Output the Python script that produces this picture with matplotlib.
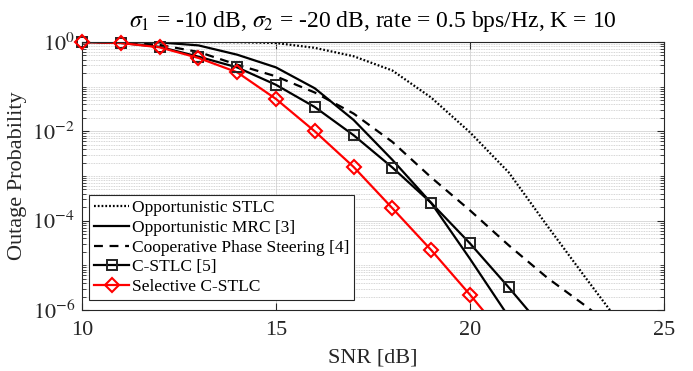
import matplotlib
matplotlib.use("Agg")
import matplotlib.pyplot as plt
from matplotlib.lines import Line2D
from matplotlib.ticker import FixedLocator, LogLocator, NullFormatter

# Outage probability vs SNR.
snr_stlc = [10, 11, 12, 13, 14, 15, 16, 17, 18, 19, 20, 21, 22, 23, 24]
p_stlc = [1.0, 1.0, 1.0, 1.0, 0.99, 0.95, 0.74, 0.48, 0.23, 0.057,
          9.5e-3, 1.2e-3, 7.5e-5, 5e-6, 3.5e-7]

snr_mrc = [10, 11, 12, 13, 14, 15, 16, 17, 18, 19, 20, 21]
p_mrc = [1.0, 1.0, 0.98, 0.84, 0.52, 0.27, 0.092, 0.018, 2.3e-3, 2.5e-4,
         1.4e-5, 7e-7]

snr_cps = [10, 11, 12, 13, 14, 15, 16, 17, 18, 19, 20, 21, 22, 23, 24]
p_cps = [1.0, 0.98, 0.86, 0.6, 0.31, 0.17, 0.074, 0.025, 5.8e-3, 9.3e-4,
         1.7e-4, 2.8e-5, 5.2e-6, 1.2e-6, 2.5e-7]

snr_cstlc = [10, 11, 12, 13, 14, 15, 16, 17, 18, 19, 20, 21, 22]
p_cstlc = [1.0, 0.95, 0.78, 0.47, 0.27, 0.11, 0.035, 8.2e-3, 1.55e-3,
           2.5e-4, 3.1e-5, 3.2e-6, 3e-7]

snr_sel = [10, 11, 12, 13, 14, 15, 16, 17, 18, 19, 20, 21]
p_sel = [1.0, 0.95, 0.76, 0.44, 0.21, 0.053, 0.01, 1.6e-3, 1.9e-4, 2.2e-5,
         2.2e-6, 2e-7]

labels = ["Opportunistic STLC", "Opportunistic MRC [3]",
          "Cooperative Phase Steering [4]", "C-STLC [5]", "Selective C-STLC"]
x_ticks = [10, 15, 20, 25]
y_ticks = [1e0, 1e-2, 1e-4, 1e-6]
y_tick_labels = [r"$10^{0}$", r"$10^{-2}$", r"$10^{-4}$", r"$10^{-6}$"]
title = (r"$\sigma_1$ = -10 dB, $\sigma_2$ = -20 dB, "
         r"rate = 0.5 bps/Hz, K = 10")

plt.rcParams["font.family"] = ["Liberation Serif", "DejaVu Serif"]
plt.rcParams["mathtext.fontset"] = "stix"

fig = plt.figure(figsize=(6.93, 3.71), dpi=100)
ax = fig.add_axes([0.1183, 0.1644, 0.8398, 0.7224])

YMIN, YMAX = 1e-6, 1e0
lw = 1.6
ink = "#262626"


def _markers(x, y, **kw):
    # draw markers only for visible points, unclipped like MATLAB
    pts = [(a, b) for a, b in zip(x, y) if YMIN * 0.999 <= b <= YMAX * 1.001]
    xs, ys = zip(*pts)
    ax.plot(xs, ys, linestyle="none", clip_on=False, zorder=4, **kw)


dotted = (0, (0.8, 0.9))
dashed = (0, (4, 3))
ax.semilogy(snr_stlc, p_stlc, color="black", linestyle=dotted, lw=lw)
ax.semilogy(snr_mrc, p_mrc, color="black", linestyle="-", lw=lw)
ax.semilogy(snr_cps, p_cps, color="black", linestyle=dashed, lw=lw)
ax.semilogy(snr_cstlc, p_cstlc, color="black", linestyle="-", lw=lw)
ax.semilogy(snr_sel, p_sel, color="red", linestyle="-", lw=lw)

sq = dict(marker="s", markersize=7, markerfacecolor="none",
          markeredgecolor="#222222", markeredgewidth=1.4)
dm = dict(marker="D", markersize=7, markerfacecolor="none",
          markeredgecolor="red", markeredgewidth=1.5)
_markers(snr_cstlc, p_cstlc, **sq)
_markers(snr_sel, p_sel, **dm)

ax.set_xlim(10, 25)
ax.set_ylim(YMIN, YMAX)
ax.xaxis.set_major_locator(FixedLocator(x_ticks))
ax.yaxis.set_major_locator(FixedLocator(y_ticks))
ax.yaxis.set_minor_locator(LogLocator(base=10, subs=range(1, 10), numticks=20))
ax.yaxis.set_minor_formatter(NullFormatter())
ax.set_yticklabels(y_tick_labels)

ax.grid(True, which="major", color="#d9d9d9", linestyle="-", linewidth=0.7)
ax.grid(True, which="minor", axis="y", color="#c8c8c8", linestyle=(0, (1, 1)),
        linewidth=0.6)
ax.set_axisbelow(True)

for s in ax.spines.values():
    s.set_color(ink)
    s.set_linewidth(0.8)
ax.tick_params(which="both", direction="in", top=True, right=True,
               colors=ink, labelsize=16, labelcolor=ink)
ax.tick_params(which="major", length=5)
ax.tick_params(which="minor", length=3)
ax.tick_params(axis="x", pad=8)
ax.tick_params(axis="y", pad=5)

ax.set_xlabel("SNR [dB]", fontsize=16, color=ink, labelpad=6)
ax.set_ylabel("Outage Probability", fontsize=16, color=ink, labelpad=4)
ax.set_title(title, fontsize=17, pad=11)

handles = [
    Line2D([], [], color="black", linestyle=dotted, lw=lw),
    Line2D([], [], color="black", linestyle="-", lw=lw),
    Line2D([], [], color="black", linestyle=dashed, lw=lw),
    Line2D([], [], color="black", linestyle="-", lw=lw, **sq),
    Line2D([], [], color="red", linestyle="-", lw=lw, **dm),
]
leg = ax.legend(handles, labels, loc="lower left",
                bbox_to_anchor=(0.012, 0.037), borderaxespad=0,
                fontsize=12.5, handlelength=2.0, handletextpad=0.15,
                labelspacing=0.2, borderpad=0.3, fancybox=False,
                framealpha=1)
leg.get_frame().set_edgecolor(ink)
leg.get_frame().set_linewidth(0.8)

fig.savefig("out.png", dpi=100)
